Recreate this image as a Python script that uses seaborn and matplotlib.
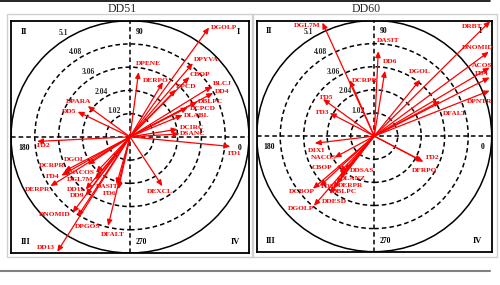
import numpy as np
import seaborn as sns
import matplotlib.pyplot as plt
from matplotlib.patches import Circle, Rectangle
from matplotlib.lines import Line2D

sns.set_theme(style="white")
plt.rcParams['font.family'] = ['Liberation Serif', 'DejaVu Serif']

# ring values
rings = [1.02, 2.04, 3.06, 4.08, 5.1]

# DD51 vectors (angle in degrees, length in ring units)
dd51_labels = ['DGOLP', 'DPYVA', 'CBOP', 'DPCD', 'DERPO', 'DPENE', 'BLCJ', 'DD4',
               'DBLPC', 'DCPCD', 'DLABL', 'DCIRC', 'DSANC', 'FD1', 'DPARA', 'DD5',
               'FD2', 'DGOL', 'DCRPR', 'FD4', 'NACOS', 'DGL7M', 'DERPR', 'DD11',
               'DD9', 'DASIT', 'FD6', 'DRBT', 'DNOMID', 'DPGOS', 'DD13', 'DFALT',
               'DEXCL']
dd51_angles = [54.8, 50.2, 45.9, 46.5, 59.6, 82.6, 32.3, 28.4,
               28.1, 27.6, 23.0, 9.3, 3.5, 354.4, 143.2, 153.8,
               182.9, 214.0, 208.2, 210.0, 227.1, 231.3, 212.4, 230.6,
               233.6, 254.6, 257.8, 214.2, 233.5, 237.3, 238.3, 256.5,
               302.6]
dd51_lengths = [5.88, 4.21, 3.66, 2.86, 2.79, 2.87, 4.16, 4.05,
                3.27, 2.79, 2.45, 2.07, 2.12, 4.32, 2.26, 2.50,
                3.99, 2.18, 3.20, 3.40, 2.14, 2.40, 4.04, 2.99,
                3.20, 2.17, 2.35, 6.23, 4.14, 4.16, 5.93, 4.02,
                2.57]

# DD60 vectors
dd60_labels = ['DRBT', 'DNOMID', 'ACOS', 'FD4', 'DPNTR', 'DFALT', 'DGOL', 'DD6',
               'DASIT', 'DGL7M', 'DCRPR', 'FD5', 'FD3', 'D1XI', 'NACOS', 'CBOP',
               'DDSAS', 'DLANZ', 'DERPR', 'DBLPC', 'FD8', 'DCBOP', 'DDESD', 'DGOLP',
               'FD2', 'DFRPQ']
dd60_angles = [45.2, 36.8, 31.1, 27.3, 21.8, 28.3, 51.3, 80.8,
               87.3, 114.2, 113.2, 143.7, 152.2, 187.0, 208.8, 226.9,
               230.0, 230.5, 232.1, 232.4, 223.0, 221.1, 232.8, 229.6,
               332.0, 332.2]
dd60_lengths = [7.15, 6.21, 5.85, 5.64, 5.40, 3.25, 3.18, 2.92,
                3.75, 5.49, 2.69, 2.76, 2.18, 2.60, 1.96, 2.19,
                1.99, 2.35, 2.67, 2.93, 3.23, 3.53, 3.19, 4.04,
                2.42, 2.34]

# label placement relative to arrow tip: (dx px, dy px, ha)
dd51_place = {
    'DGOLP': (2, 0, 'left'), 'DPYVA': (1, 4, 'left'), 'CBOP': (0, 2, 'left'),
    'DPCD': (0, 3, 'left'), 'DERPO': (6, 2, 'right'), 'DPENE': (-3, 9, 'left'),
    'BLCJ': (1, 3, 'left'), 'DD4': (2, 1, 'left'), 'DBLPC': (1, 0, 'left'),
    'DCPCD': (2, -1, 'left'), 'DLABL': (1, 0, 'left'), 'DCIRC': (2, 2, 'left'),
    'DSANC': (1, 0, 'left'), 'FD1': (-2, -7, 'left'), 'DPARA': (3, 5, 'right'),
    'DD5': (-1, 0, 'right'), 'FD2': (0, -4, 'left'), 'DGOL': (-2, 5, 'right'),
    'DCRPR': (0, 6, 'right'), 'FD4': (-2, -1, 'right'), 'NACOS': (-1, 0, 'right'),
    'DGL7M': (-1, 0, 'right'), 'DERPR': (0, -3, 'right'), 'DD11': (-1, 0, 'right'),
    'DD9': (-1, 0, 'right'), 'DASIT': (2, -2, 'right'), 'FD6': (-2, -4, 'right'),
    'DRBT': (0, -3, 'left'), 'DNOMID': (-2, -2, 'right'), 'DPGOS': (-3, -10, 'left'),
    'DD13': (-2, 4, 'right'), 'DFALT': (-7, -9, 'left'), 'DEXCL': (-15, -5, 'left'),
}
dd60_place = {
    'DRBT': (-8, -5, 'right'), 'DNOMID': (5, 4, 'right'), 'ACOS': (3, 2, 'right'),
    'FD4': (-1, 4, 'right'), 'DPNTR': (3, -11, 'right'), 'DFALT': (3, -12, 'left'),
    'DGOL': (0, 8, 'center'), 'DD6': (-2, 9, 'left'), 'DASIT': (-1, 11, 'left'),
    'DGL7M': (-2, -3, 'right'), 'DCRPR': (2, 0, 'left'), 'FD5': (-3, 2, 'left'),
    'FD3': (0, 1, 'right'), 'D1XI': (-7, -7, 'left'), 'NACOS': (2, 0, 'right'),
    'CBOP': (-7, 5, 'right'), 'DDSAS': (5, 0, 'left'), 'DLANZ': (0, -1, 'left'),
    'DERPR': (1, -2, 'left'), 'DBLPC': (-1, -3, 'left'), 'FD8': (1, 0, 'left'),
    'DCBOP': (2, -3, 'right'), 'DDESD': (-8, -8, 'left'), 'DGOLP': (0, -3, 'right'),
    'FD2': (2, 4, 'left'), 'DFRPQ': (-10, -9, 'left'),
}

PX = 72 / 100.0


def draw_panel(ax, title, labels, angles, lengths, place, title_x):
    R = rings[-1]
    ax.set_xlim(-R, R)
    ax.set_ylim(-R, R)
    ax.set_xticks([])
    ax.set_yticks([])
    for s in ax.spines.values():
        s.set_color('black')
        s.set_linewidth(1.3)
        s.set_visible(True)
    for r in rings[:-1]:
        ax.add_patch(Circle((0, 0), r, fill=False, ec='black', lw=1.1, ls=(0, (3, 2))))
    ax.add_patch(Circle((0, 0), R, fill=False, ec='black', lw=1.1, clip_on=True))
    ax.axhline(0, color='black', lw=1.1, ls=(0, (3, 2)))
    ax.axvline(0, color='black', lw=1.1, ls=(0, (3, 2)))

    a = np.deg2rad(122)
    for r in rings:
        ax.text((r + 0.3) * np.cos(a), (r + 0.3) * np.sin(a), f'{r:g}',
                fontsize=5.5, fontweight='bold', ha='center', va='center')

    kw = dict(fontsize=6, fontweight='bold', color='black')
    ax.text(0.04, 0.97, 'II', transform=ax.transAxes, ha='left', va='top', **kw)
    ax.text(0.96, 0.97, 'I', transform=ax.transAxes, ha='right', va='top', **kw)
    ax.text(0.04, 0.03, 'III', transform=ax.transAxes, ha='left', va='bottom', **kw)
    ax.text(0.96, 0.03, 'IV', transform=ax.transAxes, ha='right', va='bottom', **kw)
    kw['fontsize'] = 5.5
    ax.text(0.525, 0.97, '90', transform=ax.transAxes, ha='left', va='top', **kw)
    ax.text(0.525, 0.03, '270', transform=ax.transAxes, ha='left', va='bottom', **kw)
    ax.text(0.97, 0.47, '0', transform=ax.transAxes, ha='right', va='top', **kw)
    ax.text(0.03, 0.47, '180', transform=ax.transAxes, ha='left', va='top', **kw)

    for lab, ang, ln in zip(labels, angles, lengths):
        t = np.deg2rad(ang)
        x, y = ln * np.cos(t), ln * np.sin(t)
        ax.annotate('', xy=(x, y), xytext=(0, 0),
                    arrowprops=dict(arrowstyle='-|>,head_length=0.5,head_width=0.22',
                                    color='#ff0000', lw=0.9, shrinkA=0, shrinkB=0,
                                    mutation_scale=7))
        dx, dy, ha = place[lab]
        ax.annotate(lab, xy=(x, y), xytext=(dx * PX, dy * PX),
                    textcoords='offset points', ha=ha, va='center',
                    fontsize=5.3, fontweight='bold', color='#ff0000')

    fig.text(title_x, 1 - 9 / 285, title, ha='center', va='center', fontsize=8.5)


fig = plt.figure(figsize=(5, 2.85), dpi=100)
fig.patch.set_facecolor('white')

# light outer frames
fig.add_artist(Rectangle((7 / 500, 1 - 257 / 285), 246 / 500, 243 / 285,
                         transform=fig.transFigure, fill=False, ec='#d0d0d0', lw=1))
fig.add_artist(Rectangle((252 / 500, 1 - 257 / 285), 245 / 500, 243 / 285,
                         transform=fig.transFigure, fill=False, ec='#d0d0d0', lw=1))
fig.add_artist(Line2D([0, 490 / 500], [0.998, 0.998], transform=fig.transFigure,
                      color='black', lw=1.2))
fig.add_artist(Line2D([0, 490 / 500], [1 - 271 / 285, 1 - 271 / 285],
                      transform=fig.transFigure, color='#808080', lw=1.5))

ax1 = fig.add_axes([11 / 500, 1 - 253 / 285, 238 / 500, 232.3 / 285])
ax2 = fig.add_axes([256.7 / 500, 1 - 251.7 / 285, 235 / 500, 231.2 / 285])

draw_panel(ax1, 'DD51', dd51_labels, dd51_angles, dd51_lengths, dd51_place, 122 / 500)
draw_panel(ax2, 'DD60', dd60_labels, dd60_angles, dd60_lengths, dd60_place, 366 / 500)

fig.savefig('out.png', dpi=100)
